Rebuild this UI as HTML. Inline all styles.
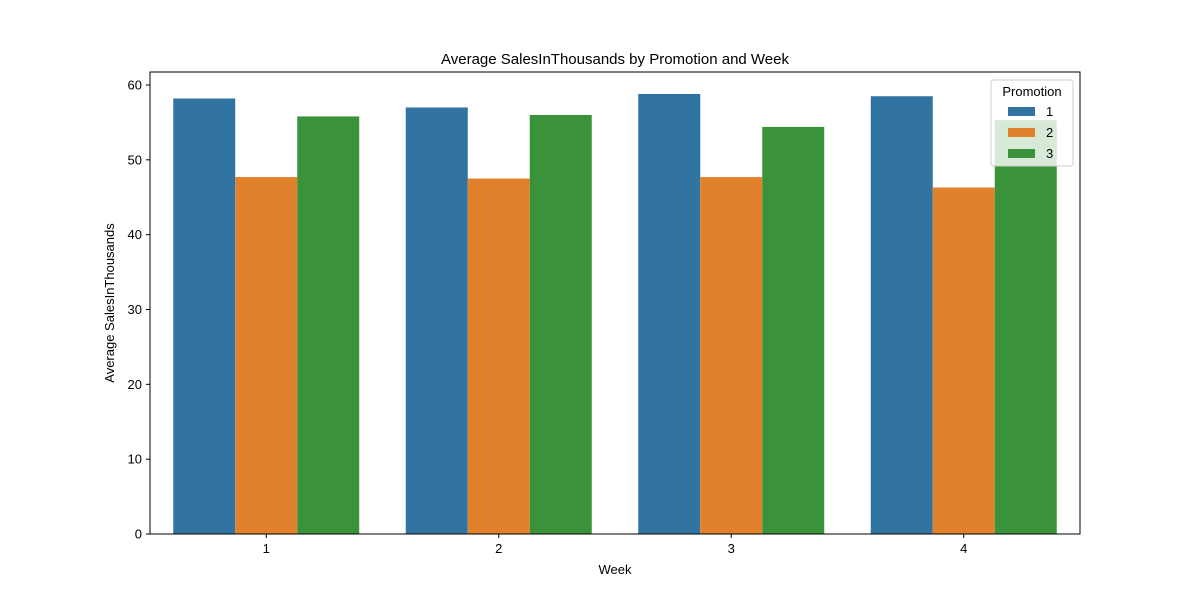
<!DOCTYPE html>
<html><head><meta charset="utf-8"><style>
body{margin:0;background:#fff;font-family:"Liberation Sans","DejaVu Sans",sans-serif;}
</style></head><body>
<svg width="1200" height="600" viewBox="0 0 1200 600" xmlns="http://www.w3.org/2000/svg">
<rect width="1200" height="600" fill="#fff"/>
<g id="bars"></g>
<g id="axes"></g>
<text x="615" y="64" font-size="15" text-anchor="middle">Average SalesInThousands by Promotion and Week</text>
<text x="615" y="574" font-size="13" text-anchor="middle">Week</text>
<text transform="translate(114,303) rotate(-90)" font-size="13" text-anchor="middle">Average SalesInThousands</text>
<g id="legend"></g>
</svg>
<script>
const weeks=["1","2","3","4"];
const promotions=["1","2","3"];
const promo1=[58.2,57.0,58.8,58.5];
const promo2=[47.7,47.5,47.7,46.3];
const promo3=[55.8,56.0,54.4,55.3];
const yTicks=[0,10,20,30,40,50,60];
const colors=["#3274a1","#e1812c","#3a923a"];
const series=[promo1,promo2,promo3];
const NS="http://www.w3.org/2000/svg";
const L=150,R=1080,T=72,B=534;
const step=(R-L)/weeks.length;
const y=v=>B-v*(449/60);
const xc=i=>L+step*(i+0.5);
const bw=step*0.8/3;
function mk(tag,attrs,parent){const e=document.createElementNS(NS,tag);for(const k in attrs)e.setAttribute(k,attrs[k]);parent.appendChild(e);return e;}
const bars=document.getElementById('bars');
series.forEach((s,j)=>s.forEach((v,i)=>{
  const x=xc(i)-step*0.4+j*bw;
  const r=mk('rect',{x:x,y:y(v),width:bw,height:B-y(v),fill:colors[j]},bars);
  
  
}));
const ax=document.getElementById('axes');
const frame=mk('rect',{x:L,y:T,width:R-L,height:B-T,fill:'none',stroke:'#000','stroke-width':1},ax);


yTicks.forEach(t=>{
  mk('line',{x1:L-4,x2:L,y1:y(t),y2:y(t),stroke:'#000'},ax);
  const tx=mk('text',{x:L-8,y:y(t)+4.5,'font-size':13,'text-anchor':'end'},ax);tx.textContent=t;
  
  
});
weeks.forEach((w,i)=>{
  mk('line',{x1:xc(i),x2:xc(i),y1:B,y2:B+4,stroke:'#000'},ax);
  const tx=mk('text',{x:xc(i),y:B+19,'font-size':13,'text-anchor':'middle'},ax);tx.textContent=w;
  
  
});
const lg=document.getElementById('legend');
mk('rect',{x:991,y:80,width:82,height:86,rx:3,fill:'#fff','fill-opacity':0.8,stroke:'#ccc'},lg);
const lt=mk('text',{x:1032,y:96,'font-size':13,'text-anchor':'middle'},lg);lt.textContent='Promotion';


promotions.forEach((p,j)=>{
  const yy=111+j*21;
  mk('rect',{x:1008,y:yy-4,width:27,height:9,fill:colors[j]},lg);
  const t=mk('text',{x:1046,y:yy+5,'font-size':13},lg);t.textContent=p;
  
  
});
</script>
</body></html>
